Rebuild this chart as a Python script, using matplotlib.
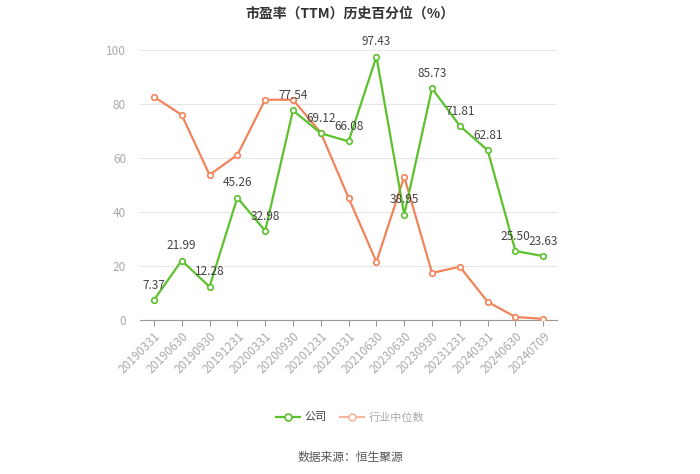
import matplotlib.pyplot as plt
from matplotlib.lines import Line2D

plt.rcParams['font.family'] = ['Noto Sans CJK SC', 'DejaVu Sans']

dates = ["20190331", "20190630", "20190930", "20191231", "20200331", "20200930",
         "20201231", "20210331", "20210630", "20230630", "20230930", "20231231",
         "20240331", "20240630", "20240709"]
company = [7.37, 21.99, 12.28, 45.26, 32.98, 77.54, 69.12, 66.08, 97.43, 38.95,
           85.73, 71.81, 62.81, 25.50, 23.63]
industry = [82.6, 75.9, 53.7, 61.1, 81.5, 81.5, 69.3, 45.2, 21.5, 53.0,
            17.4, 19.7, 6.7, 1.1, 0.4]

green = "#5cc12d"
orange = "#f0845a"

fig = plt.figure(figsize=(7, 4.74), dpi=100)
ax = fig.add_axes([0.2, 0.325, 0.596, 0.57])

x = list(range(len(dates)))
ax.plot(x, industry, color=orange, lw=1.6, marker="o", ms=4,
        markerfacecolor="white", markeredgewidth=1.2, zorder=3)
ax.plot(x, company, color=green, lw=1.6, marker="o", ms=4,
        markerfacecolor="white", markeredgewidth=1.2, zorder=4)

for xi, v in zip(x, company):
    ax.annotate(f"{v:.2f}", (xi, v), xytext=(0, 6), textcoords="offset points",
                ha="center", va="bottom", fontsize=8.5, color="#444444", zorder=5)

ax.set_xlim(-0.5, len(dates) - 0.5)
ax.set_ylim(0, 100)
ax.set_yticks([0, 20, 40, 60, 80, 100])
ax.set_xticks(x)
ax.set_xticklabels(dates, rotation=45, ha="right", rotation_mode="anchor")
ax.tick_params(axis="x", colors="#999999", labelsize=8.5, length=4, pad=3,
               labelcolor="#aaaaaa")
ax.tick_params(axis="y", length=0, labelsize=8.5, labelcolor="#aaaaaa", pad=10)
ax.grid(axis="y", color="#e6e6e6", lw=0.8)
ax.set_axisbelow(True)
for s in ["top", "right", "left"]:
    ax.spines[s].set_visible(False)
ax.spines["bottom"].set_color("#999999")

fig.text(0.5, 0.972, "市盈率（TTM）历史百分位（%）", ha="center", va="center",
         fontsize=10, fontweight="bold", color="#333333")

handles = [
    Line2D([], [], color=green, lw=1.6, marker="o", ms=5, markerfacecolor="white",
           markeredgewidth=1.2),
    Line2D([], [], color="#f6b9a0", lw=1.6, marker="o", ms=5, markerfacecolor="white",
           markeredgewidth=1.2),
]
leg = fig.legend(handles, ["公司", "行业中位数"], loc="center", bbox_to_anchor=(0.5, 0.12),
                 ncol=2, frameon=False, fontsize=8, handlelength=2.2, columnspacing=1.2,
                 handletextpad=0.4)
leg.get_texts()[0].set_color("#444444")
leg.get_texts()[1].set_color("#aaaaaa")

fig.text(0.5, 0.035, "数据来源：恒生聚源", ha="center", va="center", fontsize=8.5,
         color="#555555")

fig.savefig("out.png", dpi=100)
